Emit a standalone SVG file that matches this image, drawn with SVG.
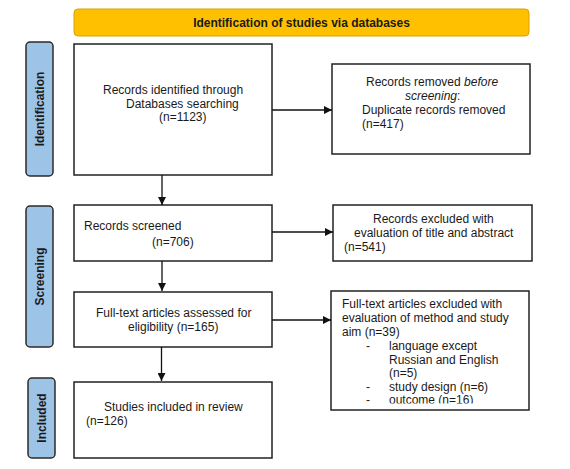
<svg xmlns="http://www.w3.org/2000/svg" width="570" height="469" viewBox="0 0 570 469">
<style>
text{font-family:"Liberation Sans",Arial,sans-serif;font-size:12px;fill:#1a1a1a}
.b{font-weight:bold}
.box{fill:#fff;stroke:#222;stroke-width:1.5}
.lab{fill:#9DC3E6;stroke:#2b2b2b;stroke-width:1.5}
.hdr{fill:#FFC000;stroke:#D9A300;stroke-width:1}
.c{stroke:#111;stroke-width:1.3;fill:none}
</style>
<defs>
<marker id="ah" viewBox="0 0 10 10" refX="10" refY="5" markerWidth="8" markerHeight="8" markerUnits="userSpaceOnUse" orient="auto">
<path d="M0,0 L10,5 L0,10 z" fill="#111"/>
</marker>
<clipPath id="clip5"><rect x="331" y="291" width="198" height="112.5"/></clipPath>
</defs>
<rect width="570" height="469" fill="#fff"/>
<g id="header">
<rect class="hdr" x="74" y="9" width="455" height="27" rx="4"/>
<text class="b" x="301.5" y="27" text-anchor="middle">Identification of studies via databases</text>
</g>
<g id="lab-identification">
<rect class="lab" x="26" y="42" width="27" height="134" rx="4"/>
<text class="b" transform="translate(44,109) rotate(-90)" text-anchor="middle">Identification</text>
</g>
<g id="lab-screening">
<rect class="lab" x="26" y="206" width="27" height="141" rx="4"/>
<text class="b" transform="translate(44,276.5) rotate(-90)" text-anchor="middle">Screening</text>
</g>
<g id="lab-included">
<rect class="lab" x="28" y="378" width="27" height="80" rx="4"/>
<text class="b" transform="translate(46,418) rotate(-90)" text-anchor="middle">Included</text>
</g>
<g id="n1">
<rect class="box" x="74" y="44" width="198" height="131"/>
<text x="103" y="94">Records identified through</text>
<text x="126" y="107.5">Databases searching</text>
<text x="159" y="121">(n=1123)</text>
</g>
<g id="n2">
<rect class="box" x="332" y="64" width="198" height="90"/>
<text x="366" y="86">Records removed <tspan font-style="italic">before</tspan></text>
<text x="405" y="100"><tspan font-style="italic">screening</tspan>:</text>
<text x="362" y="114">Duplicate records removed</text>
<text x="362" y="128">(n=417)</text>
</g>
<g id="n3">
<rect class="box" x="74" y="205" width="198" height="56"/>
<text x="84" y="230">Records screened</text>
<text x="152" y="246">(n=706)</text>
</g>
<g id="n4">
<rect class="box" x="333" y="205" width="199" height="56"/>
<text x="373" y="223">Records excluded with</text>
<text x="354" y="237">evaluation of title and abstract</text>
<text x="344" y="251">(n=541)</text>
</g>
<g id="n5">
<rect class="box" x="74" y="292" width="198" height="55"/>
<text x="96" y="317">Full-text articles assessed for</text>
<text x="128" y="331">eligibility  (n=165)</text>
</g>
<g id="n6">
<rect class="box" x="331" y="291" width="198" height="119"/>
<g clip-path="url(#clip5)">
<text x="342" y="308">Full-text articles excluded with</text>
<text x="342" y="322">evaluation of method and study</text>
<text x="342" y="336">aim (n=39)</text>
<text x="366" y="350">-</text>
<text x="389" y="350">language except</text>
<text x="389" y="363.5">Russian and English</text>
<text x="389" y="377">(n=5)</text>
<text x="366" y="391">-</text>
<text x="389" y="391">study design (n=6)</text>
<text x="366" y="404">-</text>
<text x="389" y="404">outcome (n=16)</text>
</g>
</g>
<g id="n7">
<rect class="box" x="74" y="382" width="198" height="76"/>
<text x="104" y="411">Studies included in review</text>
<text x="86" y="425">(n=126)</text>
</g>
<g id="connectors">
<line class="c" x1="272" y1="110" x2="332" y2="110" marker-end="url(#ah)"/>
<line class="c" x1="162" y1="175" x2="162" y2="205" marker-end="url(#ah)"/>
<line class="c" x1="272" y1="232" x2="333" y2="232" marker-end="url(#ah)"/>
<line class="c" x1="162" y1="261" x2="162" y2="291" marker-end="url(#ah)"/>
<line class="c" x1="272" y1="320" x2="331" y2="320" marker-end="url(#ah)"/>
<line class="c" x1="161.5" y1="347" x2="161.5" y2="381" marker-end="url(#ah)"/>
</g>
</svg>
